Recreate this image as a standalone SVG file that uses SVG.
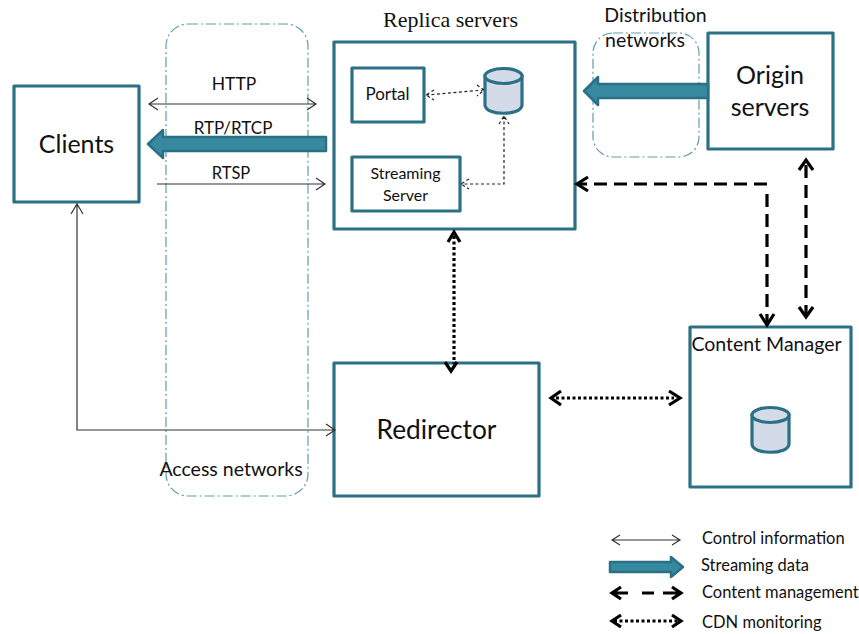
<svg xmlns="http://www.w3.org/2000/svg" width="859" height="634" viewBox="0 0 859 634">
<style>
text{font-family:Lato,"Open Sans","Liberation Sans",sans-serif;fill:#111;text-anchor:middle}
.box{fill:#fff;stroke:#2b7085;stroke-width:3.2;stroke-linejoin:round}
.net{fill:none;stroke:#5f9dae;stroke-width:1.2;stroke-dasharray:10 3 2 3}
.db{fill:#d3dae8;stroke:#2b7085;stroke-width:3.2}
.thin{fill:none;stroke:#333;stroke-width:1.2}
.fine{fill:none;stroke:#222;stroke-width:1.2;stroke-dasharray:3 2.5}
.dash{fill:none;stroke:#000;stroke-width:3.2;stroke-dasharray:13 7}
.dot{fill:none;stroke:#000;stroke-width:3.2;stroke-dasharray:3 2.5}
.bold{fill:none;stroke:#000;stroke-width:3.2}
.flow{fill:#36899f;stroke:#2b7085;stroke-width:2.5;stroke-linejoin:round}
</style>
<g id="access-networks"><rect class="net" x="166" y="24" width="142" height="472" rx="22"/><text x="231" y="476" font-size="19.500">Access networks</text></g>
<g id="distribution-networks"><rect class="net" x="593" y="33" width="106" height="124" rx="20"/><text x="655.500" y="22" font-size="19.500">Distribution</text><text x="645" y="47" font-size="19.500">networks</text></g>
<g id="clients"><rect class="box" x="14" y="86" width="125" height="116"/><text x="76.500" y="153" font-size="25">Clients</text></g>
<g id="replica-servers"><text x="450.500" y="27" font-size="22" style="font-family:'Liberation Serif',serif">Replica servers</text><rect class="box" x="334" y="42" width="241" height="187"/></g>
<g id="portal"><rect class="box" x="352" y="68" width="72" height="54"/><text x="387.500" y="100" font-size="17">Portal</text></g>
<g id="streaming-server"><rect class="box" x="352" y="157" width="108" height="54"/><text x="405.500" y="179" font-size="16">Streaming</text><text x="405.500" y="201" font-size="16">Server</text></g>
<g id="replica-store"><path class="db" d="M485 76V105C485 116 522 116 522 105V76Z"/><ellipse class="db" cx="503.500" cy="76" rx="18.500" ry="7.500"/></g>
<g id="origin-servers"><rect class="box" x="708" y="33" width="125" height="116"/><text x="770" y="84" font-size="25">Origin</text><text x="770" y="116" font-size="25">servers</text></g>
<g id="redirector"><rect class="box" x="334" y="363" width="205" height="133"/><text x="436.500" y="439" font-size="26.300">Redirector</text></g>
<g id="content-manager"><rect class="box" x="690" y="327" width="161" height="160"/><text x="766.500" y="351" font-size="19.500">Content Manager</text><path class="db" d="M752 415V444C752 455 789 455 789 444V415Z"/><ellipse class="db" cx="770.500" cy="415" rx="18.500" ry="7.500"/></g>
<g id="connectors">
<path class="thin" d="M149 104H316M158 110L149 104L158 98M307 98L316 104L307 110"/>
<path class="flow" d="M326 137V151H163V158L148 144L163 130V137Z"/>
<path class="thin" d="M157 184H325M316 178L325 184L316 190"/>
<path class="flow" d="M708 84V98H598V105L584 91L598 77V84Z"/>
<path class="thin" d="M335 430H77V204M71 214L77 204L83 214M326 424L335 430L326 436"/>
<path class="fine" d="M426 95L484 90M434 90L426 95L434 100M477 85L484 90L477 96"/>
<path class="fine" d="M504 116V184H461M499 124L504 116L509 124M469 179L461 184L469 189"/>
<path class="dash" d="M767 184H580"/><path class="dash" d="M767 194V322"/>
<path class="bold" d="M588 177L577 184L588 191M760 314L767 325L774 314"/>
<path class="dash" d="M806 165V314"/>
<path class="bold" d="M799 170L806 160L813 170M799 307L806 317L813 307"/>
<path class="dot" d="M454 236V364"/>
<path class="bold" d="M448 242L454 232L460 242M445 362L451 371L457 362"/>
<path class="dot" d="M556 398H674"/>
<path class="bold" d="M561 391L551 398L561 405M669 391L680 398L669 405"/>
</g>
<g id="legend">
<path class="thin" d="M612 540H680M620 535L612 540L620 545M672 535L680 540L672 545"/>
<path class="flow" d="M610 562H671V557L683 567L671 577V572H610Z"/>
<path class="bold" d="M621 587L612 593L621 599M672 587L681 593L672 599M612 593H628M642 593H654M663 593H681"/>
<path class="dot" d="M614 621H680"/>
<path class="bold" d="M621 615L612 621L621 627M672 615L681 621L672 627"/>
<g font-size="16.500"><text x="702" y="544" style="text-anchor:start">Control information</text><text x="701" y="571" style="text-anchor:start">Streaming data</text><text x="702" y="598" style="text-anchor:start">Content management</text><text x="702" y="628" style="text-anchor:start">CDN monitoring</text></g>
</g>
<g id="protocol-labels"><text x="234" y="90" font-size="17.500">HTTP</text><text x="233" y="134" font-size="17">RTP/RTCP</text><text x="231" y="179" font-size="16.500">RTSP</text></g>
</svg>
